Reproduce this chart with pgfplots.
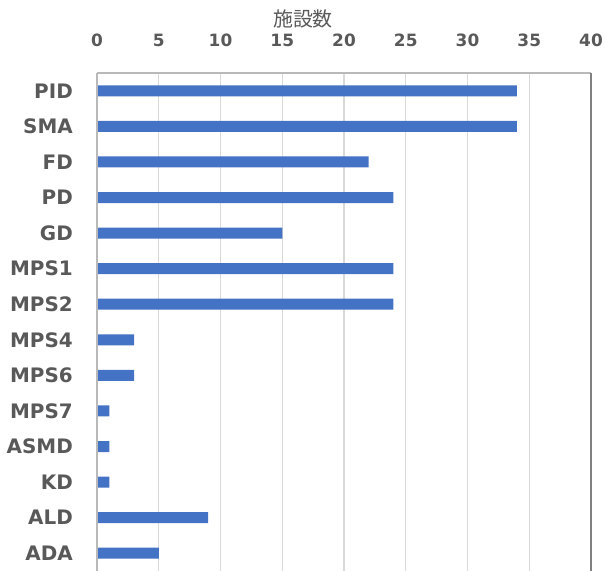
\documentclass[border=0pt]{standalone}
\usepackage{pgfplots}
\pgfplotsset{compat=1.18}
\usepackage{fontspec}
\setmainfont{DejaVu Sans}
\newfontfamily\cjk{Noto Sans CJK JP}
\definecolor{barblue}{HTML}{4472C4}
\definecolor{txtgray}{HTML}{595959}
\definecolor{gridgray}{HTML}{D9D9D9}
\begin{document}
\begin{tikzpicture}
\path[use as bounding box] (0,0) rectangle (605bp,571bp);
\begin{axis}[
  at={(97bp,0bp)}, anchor=south west,
  scale only axis, width=494bp, height=498bp,
  xbar, bar width=11bp,
  xmin=0, xmax=40, xtick={0,5,...,40},
  ymin=-0.5, ymax=13.5, y dir=reverse,
  ytick={0,...,13},
  yticklabels={PID,SMA,FD,PD,GD,MPS1,MPS2,MPS4,MPS6,MPS7,ASMD,KD,ALD,ADA},
  xticklabel pos=top,
  major tick length=0pt,
  axis line style={draw=none},
  xmajorgrids, grid style={gridgray, line width=1.2pt},
  /pgf/number format/assume math mode=true,
  xticklabel style={font=\bfseries\fontsize{17}{17}\selectfont, text=txtgray, inner sep=0pt, anchor=south, yshift=26bp},
  yticklabel style={font=\bfseries\fontsize{20}{20}\selectfont, text=txtgray, inner sep=0pt, anchor=east, xshift=-24bp},
  clip=false,
]
\addplot[fill=barblue, draw=none] coordinates {
 (34,0) (34,1) (22,2) (24,3) (15,4) (24,5) (24,6) (3,7) (3,8) (1,9) (1,10) (1,11) (9,12) (5,13)
};
\draw[gray!55, line width=1.2pt] (rel axis cs:0,1) -- (rel axis cs:1,1);
\draw[gray!55, line width=1.2pt] (rel axis cs:0,0) -- (rel axis cs:0,1);
\draw[gray, line width=1.2pt] (rel axis cs:1,0) -- (rel axis cs:1,1);
\end{axis}
\node[text=txtgray, font=\cjk\fontsize{20}{20}\selectfont, inner sep=0pt] at (303bp,552bp) {施設数};
\end{tikzpicture}
\end{document}
